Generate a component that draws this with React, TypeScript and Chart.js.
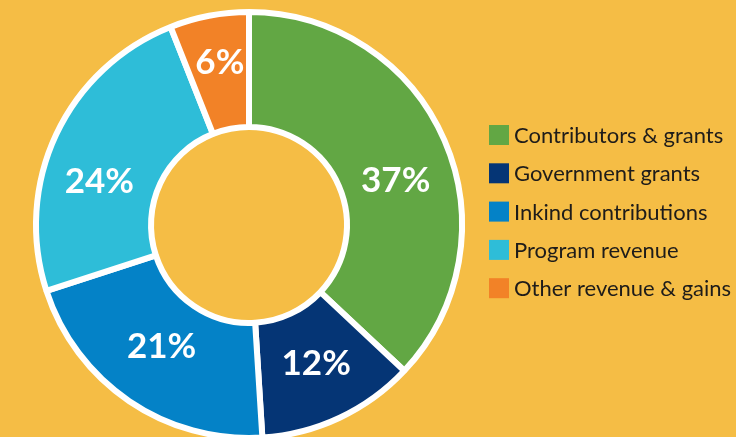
import React, { useEffect, useRef } from "react";
import { Chart, registerables } from "chart.js";

Chart.register(...registerables);

const categories = [
  "Contributors & grants",
  "Government grants",
  "Inkind contributions",
  "Program revenue",
  "Other revenue & gains",
];
const shares = [37, 12, 21, 24, 6];
const sliceLabels = ["37%", "12%", "21%", "24%", "6%"];
const colors = ["#62A744", "#053575", "#0482C7", "#2EBDD8", "#F28227"];
// pixel nudges of the value labels relative to each slice's centre point
const labelNudges: [number, number][] = [
  [4, 16],
  [1, -3],
  [0, -8],
  [-9, 22],
  [0, -11],
];

const BG = "#F5BD45";

const sliceLabelPlugin = {
  id: "sliceLabels",
  afterDatasetsDraw(chart: any) {
    const ctx = chart.ctx;
    const meta = chart.getDatasetMeta(0);
    ctx.save();
    ctx.fillStyle = "#ffffff";
    ctx.font = "bold 35px Lato";
    ctx.textAlign = "center";
    ctx.textBaseline = "middle";
    meta.data.forEach((arc: any, i: number) => {
      const p = arc.getCenterPoint();
      const n = labelNudges[i] || [0, 0];
      ctx.fillText(sliceLabels[i], p.x + n[0], p.y + n[1] + 1);
    });
    ctx.restore();
  },
};

const legendPlugin = {
  id: "customLegend",
  afterDraw(chart: any) {
    const ctx = chart.ctx;
    const x0 = 489;
    const y0 = 125;
    const step = 38.3;
    const box = 20;
    ctx.save();
    ctx.font = "22px Lato";
    ctx.textBaseline = "middle";
    ctx.textAlign = "left";
    categories.forEach((label, i) => {
      const y = y0 + i * step;
      ctx.fillStyle = colors[i];
      ctx.fillRect(x0, y, box, box);
      ctx.fillStyle = "#1E1C1A";
      ctx.fillText(label, x0 + 25, y + box / 2 + 1);
    });
    ctx.restore();
  },
};

export default function App() {
  const ref = useRef<HTMLCanvasElement | null>(null);
  useEffect(() => {
    document.body.style.margin = "0";
    if (!ref.current) return;
    const chart = new Chart(ref.current, {
      type: "doughnut",
      data: {
        labels: categories,
        datasets: [
          {
            data: shares,
            backgroundColor: colors,
            borderColor: "#ffffff",
            borderWidth: 6,
            hoverBorderWidth: 6,
          },
        ],
      },
      options: {
        animation: false,
        responsive: false,
        maintainAspectRatio: false,
        cutout: "46%",
        layout: { padding: { left: 33, right: 271, top: 9, bottom: 4 } },
        plugins: {
          legend: { display: false },
          tooltip: { enabled: false },
        },
      },
      plugins: [sliceLabelPlugin, legendPlugin],
    });
    return () => chart.destroy();
  }, []);
  return (
    <div
      style={{
        width: 736,
        height: 437,
        overflow: "hidden",
        background: BG,
        position: "relative",
      }}
    >
      <canvas ref={ref} width={736} height={445} style={{ display: "block" }} />
    </div>
  );
}
